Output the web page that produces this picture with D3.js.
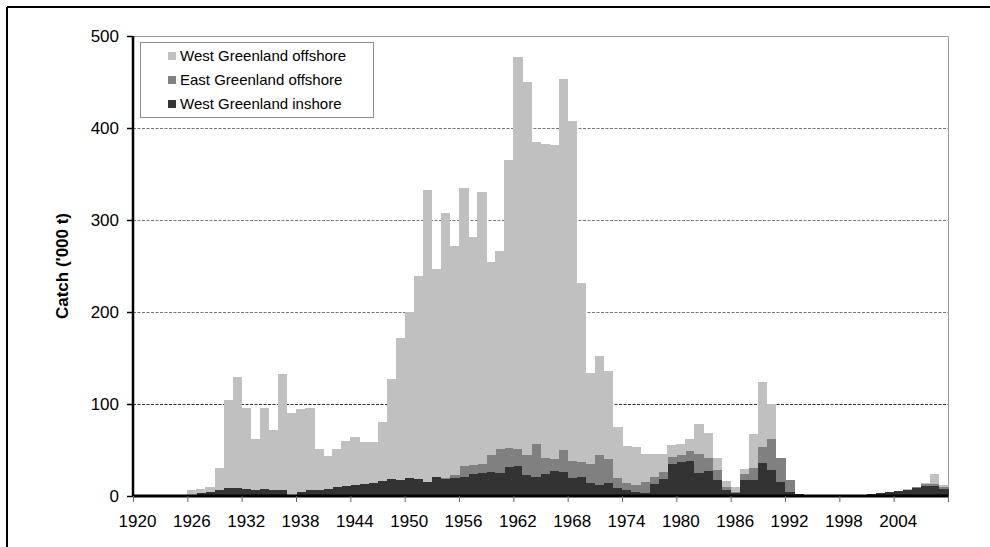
<!DOCTYPE html>
<html>
<head>
<meta charset="utf-8">
<script src="https://cdn.jsdelivr.net/npm/d3@7"></script>
<style>
  body { margin: 0; background: #fff; }
  svg { display: block; font-family: "Liberation Sans", Arial, sans-serif; }
</style>
</head>
<body>
<svg id="chart" width="990" height="547"></svg>
<script>
// --- data, '000 t, one value per year 1920..2009 ---
const years = d3.range(1920, 2010);

// West Greenland inshore (bottom, dark)
const inshore = [
  0, 0, 0, 0, 0.3, 0.5, 1, 3, 4, 6,
  8.5, 8.5, 8, 7, 8, 6.5, 6, 1, 4, 6,
  6.5, 8, 10, 11, 12, 13, 14.5, 16, 18, 17,
  20, 18, 15, 21, 19, 19.5, 21, 23.5, 24.5, 26,
  25.5, 32, 33, 23, 21, 24, 27.5, 26.5, 20, 21,
  14.5, 11.5, 14, 8.5, 6.5, 4.5, 3, 13, 18, 35,
  36.5, 38.5, 25, 27.5, 17.5, 6.5, 3.5, 17.5, 17.5, 36,
  28, 15.5, 4.5, 1.8, 1.5, 1.5, 1.2, 1, 0.7, 0.7,
  1, 2, 3.5, 4.3, 5, 6.5, 8.5, 11, 11, 8
];

// East Greenland offshore (middle)
const eastOffshore = [
  0, 0, 0, 0, 0, 0, 0, 0, 0, 0,
  0, 0, 0, 0, 0, 0, 0, 0, 0, 0,
  0, 0, 0, 0, 0, 0, 0, 0, 0, 0,
  0, 0, 0, 0, 0.6, 3.5, 11.5, 10, 10.5, 18.5,
  25.5, 20.5, 18, 21.5, 35.5, 17, 12.5, 24, 18.5, 16,
  20.5, 33, 26, 11.5, 8, 8, 12, 7.5, 8.5, 7,
  8, 10.5, 21, 13.5, 10.5, 3.5, 1, 6.5, 12.5, 17.5,
  33.5, 25.5, 13, 0.4, 0, 0, 0, 0, 0, 0,
  0, 0, 0, 0, 0, 0.5, 1, 2, 2, 2
];

// West Greenland offshore (top, light)
const westOffshore = [
  0, 0, 0.2, 0.5, 0.7, 1, 5, 5, 6, 24,
  95.5, 120.5, 88, 55, 88, 65.5, 127, 89, 91, 90,
  44.5, 35, 41, 49, 52.5, 46, 44.5, 64, 109, 155,
  180, 221, 318, 226, 288, 249, 302.5, 247.5, 295, 209.5,
  215, 312.5, 426, 405.5, 328.5, 342, 341, 402.5, 369.5, 194,
  99, 107.5, 96, 55, 39.5, 40.5, 30.5, 25, 19, 13,
  12.5, 13.5, 32, 28, 13, 6.5, 5, 5, 37.5, 70,
  39, 0.5, 0, 0, 0, 0, 0, 0, 0, 0,
  0, 0, 0, 0, 0, 0.5, 0.5, 1.5, 11, 1.6
];

const seriesKeys = ["inshore", "east", "west"];
const seriesNames = ["West Greenland inshore", "East Greenland offshore", "West Greenland offshore"];
const seriesColors = ["#333333", "#808080", "#c0c0c0"];
const yTicks = [0, 100, 200, 300, 400, 500];
const labelYears = d3.range(1920, 2005, 6);

const rows = years.map((yr, i) => ({
  year: yr, inshore: inshore[i], east: eastOffshore[i], west: westOffshore[i]
}));

// --- layout ---
const plotLeft = 133, plotRight = 948, plotTop = 36, plotBottom = 496;
const svg = d3.select("#chart");

// outer frame (top and left edge only)
svg.append("line").attr("x1", 7).attr("x2", 990).attr("y1", 7).attr("y2", 7)
  .attr("stroke", "#000").attr("stroke-width", 2);
svg.append("line").attr("x1", 7).attr("x2", 7).attr("y1", 7).attr("y2", 547)
  .attr("stroke", "#000").attr("stroke-width", 2);

const x = d3.scaleBand().domain(years).range([plotLeft, plotRight]).padding(0);
const xEdge = d3.scaleLinear().domain([1920, 2010]).range([plotLeft, plotRight]);
const y = d3.scaleLinear().domain([0, 500]).range([plotBottom, plotTop]);

// gridlines
svg.append("g").selectAll("line")
  .data(yTicks.filter(v => v > 0 && v < 500))
  .join("line")
  .attr("x1", plotLeft).attr("x2", plotRight)
  .attr("y1", d => Math.round(y(d)) + 0.5).attr("y2", d => Math.round(y(d)) + 0.5)
  .attr("stroke", d => d === 100 ? "#333" : "#777").attr("stroke-dasharray", "3,1.5");

// plot border (top, right)
svg.append("path")
  .attr("d", `M${plotLeft},${plotTop + 0.5}H${plotRight + 0.5}V${plotBottom}`)
  .attr("fill", "none").attr("stroke", "#9a9a9a");

// stacked bars
const stacked = d3.stack().keys(seriesKeys)(rows);
svg.append("g").selectAll("g")
  .data(stacked)
  .join("g")
  .attr("fill", (d, i) => seriesColors[i])
  .selectAll("rect")
  .data(d => d)
  .join("rect")
  .attr("shape-rendering", "crispEdges")
  .attr("x", d => x(d.data.year))
  .attr("width", x.bandwidth() + 0.5)
  .attr("y", d => y(d[1]))
  .attr("height", d => y(d[0]) - y(d[1]));

// y axis
const yAxis = svg.append("g")
  .attr("transform", `translate(${plotLeft},0)`)
  .call(d3.axisLeft(y).tickValues(yTicks).tickSize(6).tickPadding(8));
yAxis.select(".domain").attr("stroke-width", 2.5).attr("d", `M0,${plotTop}V${plotBottom}`);
yAxis.selectAll(".tick line").attr("stroke-width", 1.5);
yAxis.selectAll("text").attr("font-size", 17).attr("fill", "#000")
  .attr("font-family", "Liberation Sans, Arial, sans-serif");

// x axis: tick marks on category edges, labels centred on categories
const xTickAxis = svg.append("g")
  .attr("transform", `translate(0,${plotBottom})`)
  .call(d3.axisBottom(xEdge).tickValues(d3.range(1920, 2011, 6)).tickSize(6).tickFormat(""));
xTickAxis.select(".domain").attr("stroke-width", 3).attr("d", `M${plotLeft},0H${plotRight}`);
xTickAxis.selectAll(".tick line").attr("stroke", "#666");

const xLabelAxis = svg.append("g")
  .attr("transform", `translate(0,${plotBottom})`)
  .call(d3.axisBottom(x).tickValues(labelYears).tickSize(0).tickPadding(19));
xLabelAxis.select(".domain").remove();
xLabelAxis.selectAll("text").attr("font-size", 17).attr("fill", "#000")
  .attr("font-family", "Liberation Sans, Arial, sans-serif");

// y title
svg.append("text")
  .attr("transform", `translate(68,${(plotTop + plotBottom) / 2}) rotate(-90)`)
  .attr("text-anchor", "middle")
  .attr("font-size", 17).attr("font-weight", "bold")
  .text("Catch ('000 t)");

// legend
const legend = svg.append("g");
legend.append("rect")
  .attr("x", 140.5).attr("y", 42.5).attr("width", 233).attr("height", 75)
  .attr("fill", "#fff").attr("stroke", "#8c8c8c");
const legendOrder = [2, 1, 0];
legendOrder.forEach((si, k) => {
  const cy = 56 + k * 24;
  legend.append("rect")
    .attr("x", 168).attr("y", cy - 4).attr("width", 8).attr("height", 8)
    .attr("fill", seriesColors[si]);
  legend.append("text")
    .attr("x", 180).attr("y", cy).attr("dy", "0.35em")
    .attr("font-size", 15)
    .text(seriesNames[si]);
});
</script>
</body>
</html>
